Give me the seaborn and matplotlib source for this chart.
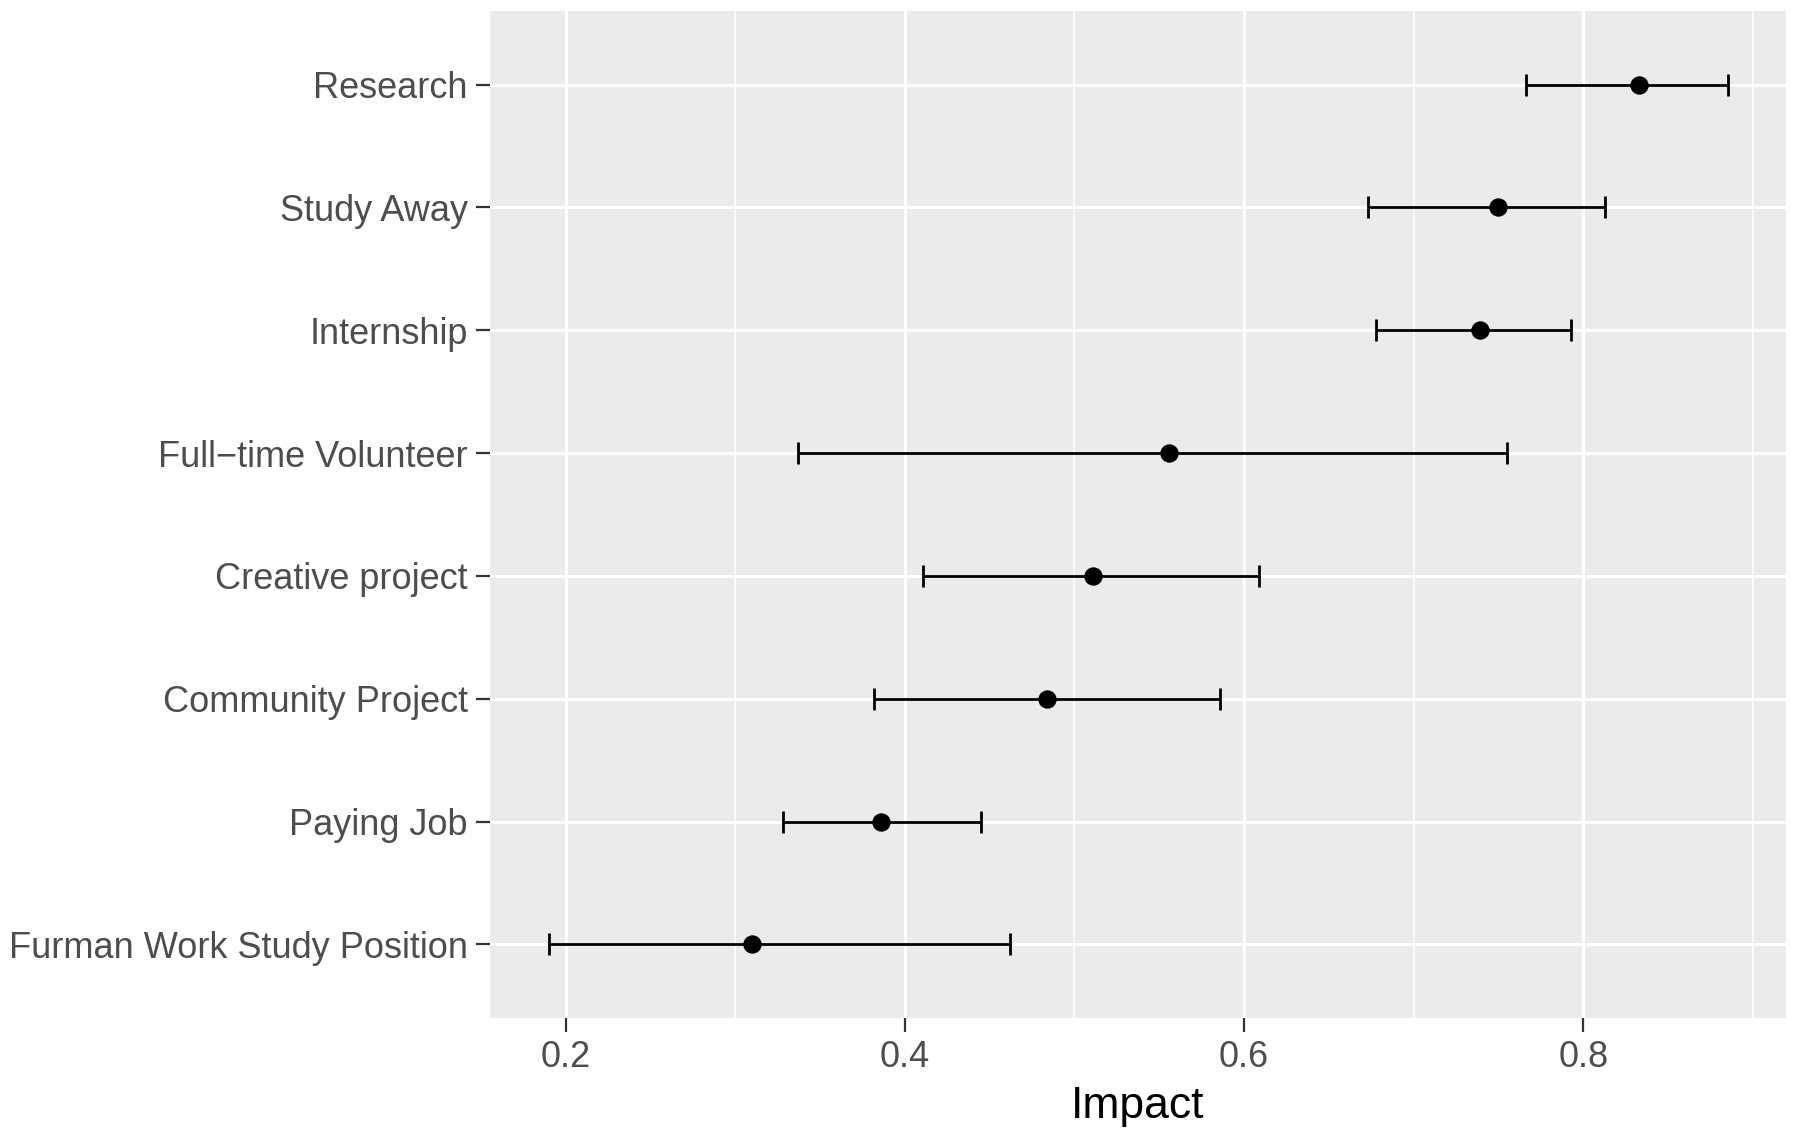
import matplotlib
matplotlib.use("Agg")
import matplotlib.pyplot as plt
import seaborn as sns
import pandas as pd
from matplotlib.ticker import MultipleLocator

categories = ["Research", "Study Away", "Internship", "Full\u2212time Volunteer",
              "Creative project", "Community Project", "Paying Job",
              "Furman Work Study Position"]
impact = [0.833, 0.750, 0.739, 0.556, 0.511, 0.484, 0.386, 0.310]
lower = [0.766, 0.673, 0.678, 0.337, 0.411, 0.382, 0.328, 0.190]
upper = [0.885, 0.813, 0.793, 0.755, 0.609, 0.586, 0.445, 0.462]
xticks = [0.2, 0.4, 0.6, 0.8]

df = pd.DataFrame({"category": categories, "impact": impact,
                   "lower": lower, "upper": upper})
df["pos"] = range(len(df))

sns.set_theme(style="darkgrid")
plt.rcParams["font.family"] = ["Liberation Sans", "DejaVu Sans"]

fig = plt.figure(figsize=(17.95, 11.29), dpi=100)
ax = fig.add_axes([0.273, 0.0983, 0.722, 0.892])
ax.set_facecolor("#EBEBEB")

ax.errorbar(df["impact"], df["pos"],
            xerr=[df["impact"] - df["lower"], df["upper"] - df["impact"]],
            fmt="none", ecolor="black", elinewidth=2.0, capsize=8, capthick=2.0,
            zorder=3)
sns.scatterplot(data=df, x="impact", y="pos", color="black", s=175,
                edgecolor="black", linewidth=0, ax=ax, zorder=4)

ax.set_xlim(0.1555, 0.9195)
ax.set_ylim(len(df) - 0.4, -0.6)
ax.set_yticks(df["pos"])
ax.set_yticklabels(categories)
ax.set_xticks(xticks)
ax.set_xticklabels([f"{t:.1f}" for t in xticks])
ax.xaxis.set_minor_locator(MultipleLocator(0.1))

ax.grid(which="major", color="white", linewidth=2.2)
ax.grid(which="minor", axis="x", color="white", linewidth=1.1)
ax.set_axisbelow(True)
for s in ax.spines.values():
    s.set_visible(False)

ax.tick_params(axis="both", which="major", length=10, width=1.6, color="#333333",
               labelsize=26, labelcolor="#4D4D4D", pad=6, bottom=True, left=True)
ax.tick_params(axis="x", which="minor", length=0)
ax.set_xlabel("Impact", fontsize=32, color="black", labelpad=8)
ax.set_ylabel("")

fig.savefig("out.png", dpi=100)
